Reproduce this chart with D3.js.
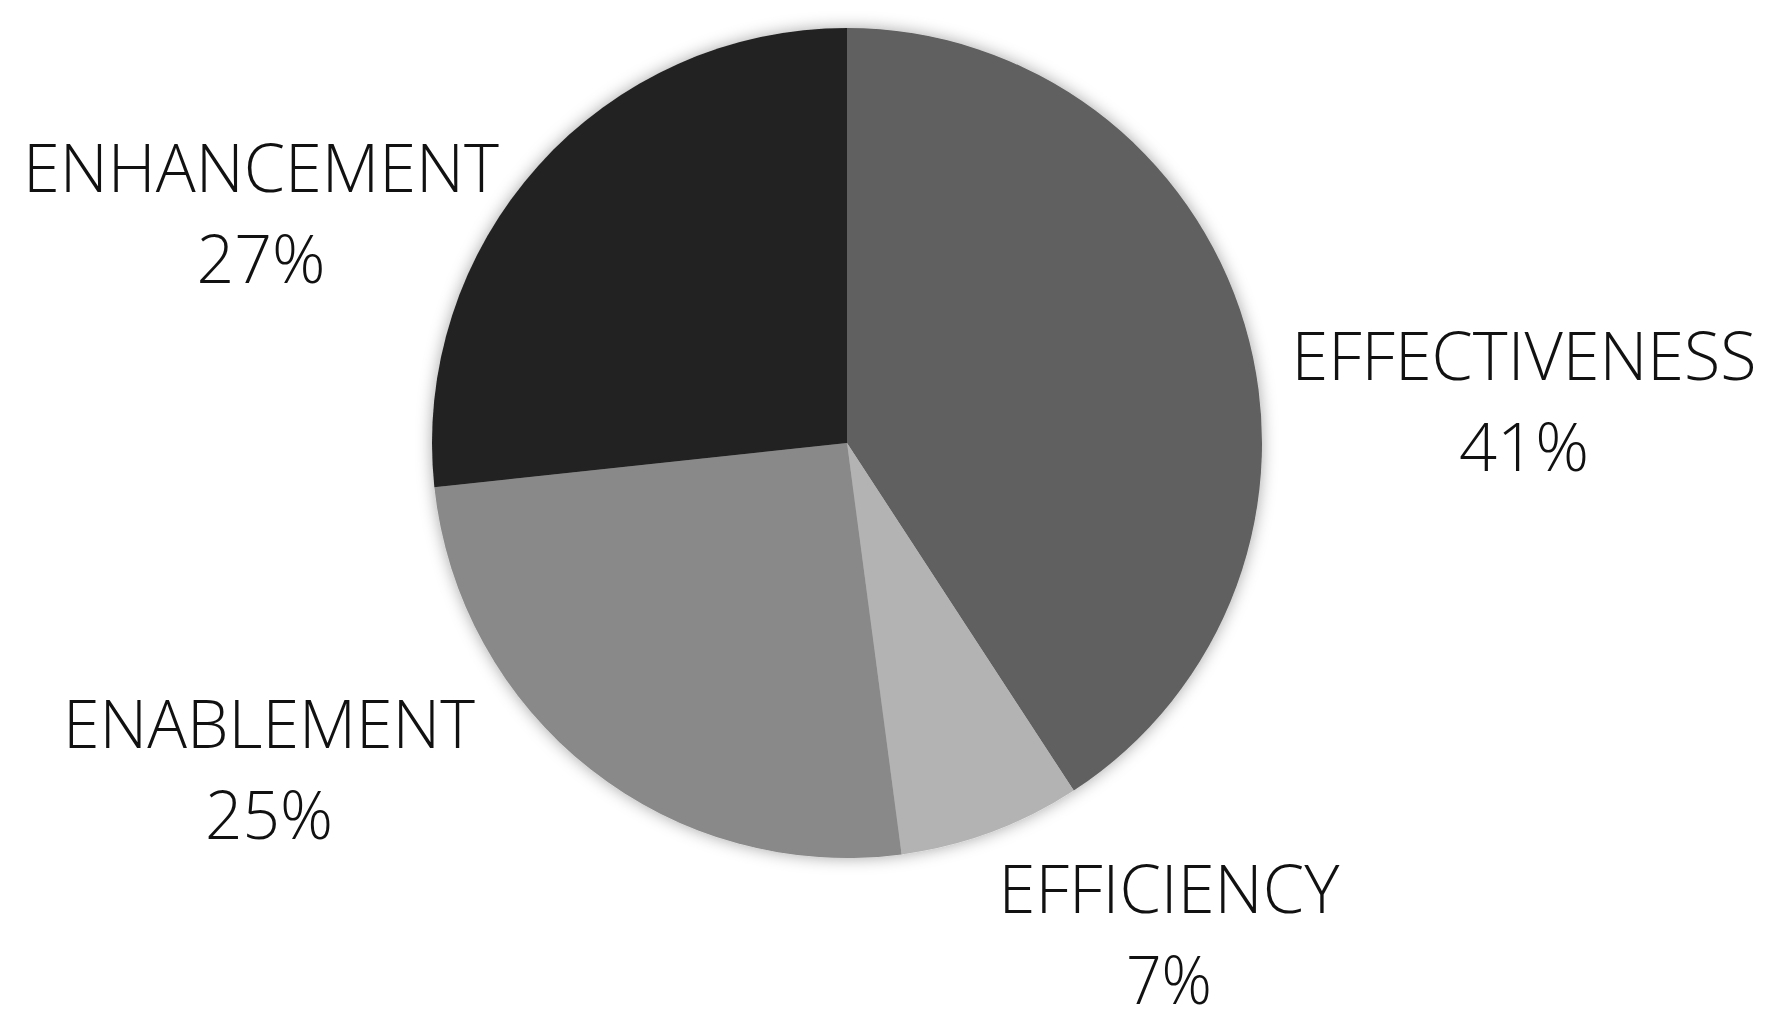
<!DOCTYPE html>
<html>
<head>
<meta charset="utf-8">
<script src="https://cdn.jsdelivr.net/npm/d3@7"></script>
<style>
  html, body { margin: 0; padding: 0; background: #ffffff; }
  svg { display: block; }
</style>
</head>
<body>
<svg id="chart" width="1786" height="1026"></svg>
<script>
// Data (slice sizes; labels as printed)
const categories = ["EFFECTIVENESS", "EFFICIENCY", "ENABLEMENT", "ENHANCEMENT"];
const values = [40.8, 7.1, 25.4, 26.7];
const percentLabels = ["41%", "7%", "25%", "27%"];
const colors = ["#606060", "#b3b3b3", "#898989", "#222222"];

// Label layout (centre x, baseline of first line, width of name line)
const labelPos = [
  { x: 1524, y: 380, w: 465 },
  { x: 1169, y: 913, w: 341 },
  { x: 269, y: 748, w: 412 },
  { x: 261, y: 192, w: 476 }
];
const pctWidths = [130, 86, 128, 129];

const svg = d3.select("#chart");
const cx = 847, cy = 443, radius = 415;

const defs = svg.append("defs");
const f = defs.append("filter").attr("id", "shadow")
  .attr("x", "-20%").attr("y", "-20%").attr("width", "140%").attr("height", "140%");
f.append("feDropShadow").attr("dx", 0).attr("dy", 0)
  .attr("stdDeviation", 8).attr("flood-color", "#000").attr("flood-opacity", 0.35);

const pie = d3.pie().sort(null).value(d => d.value);
const arc = d3.arc().innerRadius(0).outerRadius(radius);

const data = categories.map((c, i) => ({ name: c, value: values[i], color: colors[i] }));

const g = svg.append("g").attr("transform", `translate(${cx},${cy})`);
g.append("g").attr("filter", "url(#shadow)")
  .selectAll("path")
  .data(pie(data))
  .join("path")
  .attr("d", arc)
  .attr("fill", d => d.data.color);

const labels = svg.append("g")
  .attr("font-family", "'Open Sans', 'Noto Sans', sans-serif")
  .attr("font-weight", 300)
  .attr("font-size", 67)
  .attr("fill", "#111")
  .attr("text-anchor", "middle");

categories.forEach((c, i) => {
  const p = labelPos[i];
  labels.append("text")
    .attr("x", p.x).attr("y", p.y)
    .attr("textLength", p.w).attr("lengthAdjust", "spacingAndGlyphs")
    .text(c);
  labels.append("text")
    .attr("x", p.x).attr("y", p.y + 91)
    .attr("textLength", pctWidths[i]).attr("lengthAdjust", "spacingAndGlyphs")
    .text(percentLabels[i]);
});
</script>
</body>
</html>
